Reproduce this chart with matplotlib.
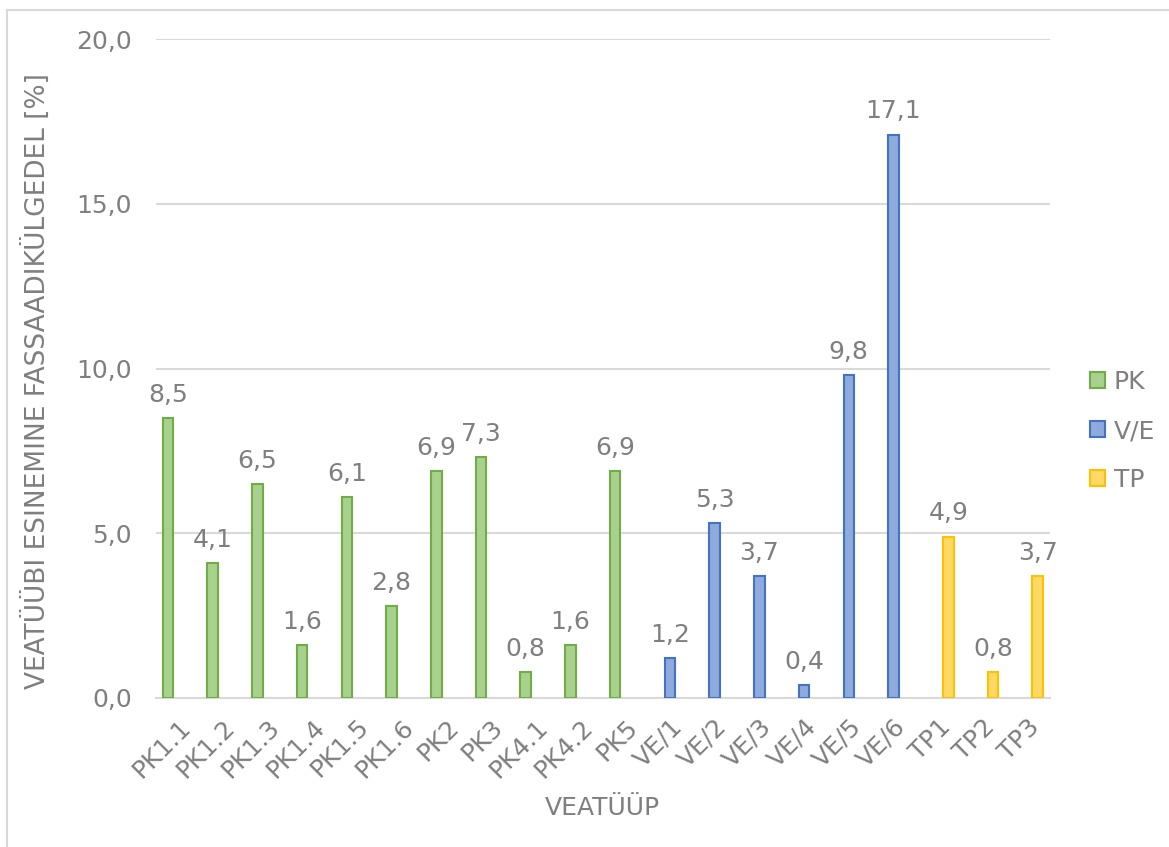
import numpy as np
import matplotlib
matplotlib.use("Agg")
import matplotlib.pyplot as plt
from matplotlib.patches import Patch
from matplotlib.lines import Line2D

categories = ["PK1.1", "PK1.2", "PK1.3", "PK1.4", "PK1.5", "PK1.6", "PK2", "PK3",
              "PK4.1", "PK4.2", "PK5", "VE/1", "VE/2", "VE/3", "VE/4", "VE/5",
              "VE/6", "TP1", "TP2", "TP3"]
nan = np.nan
pk_values = [8.5, 4.1, 6.5, 1.6, 6.1, 2.8, 6.9, 7.3, 0.8, 1.6, 6.9,
             nan, nan, nan, nan, nan, nan, nan, nan, nan]
ve_values = [nan] * 11 + [1.2, 5.3, 3.7, 0.4, 9.8, 17.1] + [nan] * 3
tp_values = [nan] * 17 + [4.9, 0.8, 3.7]
series_names = ["PK", "V/E", "TP"]
y_ticks = [0, 5, 10, 15, 20]

fills = ["#A9D18E", "#8FAADC", "#FFD966"]
edges = ["#70AD47", "#4472C4", "#FFC000"]
text_col = "#7F7F7F"
grid_col = "#D9D9D9"
fs = 18

plt.rcParams["font.family"] = ["DejaVu Sans"]

fig = plt.figure(figsize=(11.69, 8.47), dpi=100)
ax = fig.add_axes([155.7 / 1169, 1 - 698 / 847, (1050 - 155.7) / 1169, (698 - 39) / 847])

x = np.arange(len(categories))
width = 0.235
offsets = [-0.225, 0.0, 0.225]
for vals, off, fc, ec in zip([pk_values, ve_values, tp_values], offsets, fills, edges):
    vals = np.array(vals, dtype=float)
    mask = ~np.isnan(vals)
    ax.bar(x[mask] + off, vals[mask], width=width, color=fc, edgecolor=ec,
           linewidth=1.5, zorder=3)
    for xi, v in zip(x[mask] + off, vals[mask]):
        ax.annotate(f"{v:.1f}".replace(".", ","), (xi, v), xytext=(0, 8),
                    textcoords="offset points", ha="center", va="bottom",
                    fontsize=fs, color=text_col)

ax.set_xlim(-0.5, len(categories) - 0.5)
ax.set_ylim(0, 20)
ax.set_yticks(y_ticks)
ax.set_yticklabels([f"{t:.1f}".replace(".", ",") for t in y_ticks])
ax.set_xticks(x)
ax.set_xticklabels(categories, rotation=45, ha="right", rotation_mode="anchor")
ax.tick_params(axis="both", length=0, labelsize=fs, labelcolor=text_col)
ax.tick_params(axis="y", pad=17)
ax.tick_params(axis="x", pad=12)

ax.grid(axis="y", color=grid_col, linewidth=1.5, zorder=0)
for s in ["top", "right", "left"]:
    ax.spines[s].set_visible(False)
ax.spines["bottom"].set_color(grid_col)
ax.spines["bottom"].set_linewidth(1.5)

fig.text(602 / 1169, 1 - 808 / 847, "VEATÜÜP", ha="center", va="center",
         fontsize=fs, color=text_col)
fig.text(36 / 1169, 1 - 381 / 847, "VEATÜÜBI ESINEMINE FASSAADIKÜLGEDEL [%]",
         ha="center", va="center", rotation=90, fontsize=19, color=text_col)

handles = [Patch(facecolor=fc, edgecolor=ec, linewidth=1.5) for fc, ec in zip(fills, edges)]
leg = fig.legend(handles, series_names, loc="center left",
                 bbox_to_anchor=(1080 / 1169, 1 - 431 / 847), frameon=False,
                 fontsize=fs, handlelength=0.6, handleheight=0.6,
                 handletextpad=0.35, labelspacing=1.0, borderaxespad=0)
for t in leg.get_texts():
    t.set_color(text_col)

# chart frame
fig.add_artist(Line2D([7 / 1169, 7 / 1169], [0, 1 - 10 / 847], transform=fig.transFigure,
                      color=grid_col, linewidth=1.5))
fig.add_artist(Line2D([7 / 1169, 1], [1 - 10 / 847, 1 - 10 / 847], transform=fig.transFigure,
                      color=grid_col, linewidth=1.5))

fig.savefig("out.png", dpi=100, facecolor="white")
